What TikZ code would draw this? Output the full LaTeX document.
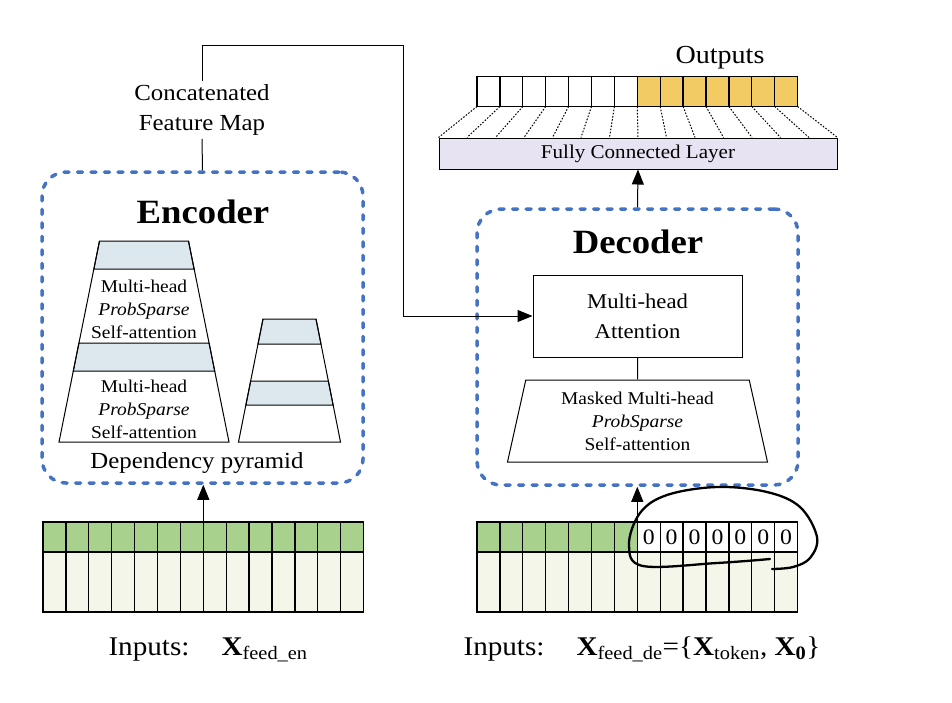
\documentclass[tikz,border=0pt]{standalone}
\usepackage{fontspec}
\setmainfont{Liberation Serif}[FakeStretch=1.08]
\usepackage{xcolor}
\usepackage{tikz}
\usetikzlibrary{arrows.meta,calc,shapes.geometric}

\definecolor{encblue}{HTML}{4472C4}
\definecolor{band}{HTML}{DDE8EE}
\definecolor{ingreen}{HTML}{A9D18E}
\definecolor{inlight}{HTML}{F3F6E8}
\definecolor{outgold}{HTML}{F2CB63}
\definecolor{fclav}{HTML}{E8E3F2}
\newcommand{\fs}[2]{\fontsize{#1pt}{#2pt}\selectfont}

\begin{document}
\begin{tikzpicture}[x=1pt, y=-1pt,
  blk/.style={draw=encblue, line width=3.5pt, line cap=round, dash pattern=on 5pt off 8.5pt, rounded corners=24pt, inner sep=0pt},
  lyr/.style={draw, line width=1pt},
  cell/.style={draw, line width=1.3pt, inner sep=0pt, outer sep=0pt, minimum width=22.9pt, minimum height=30pt},
  arr/.style={line width=1pt, -{Triangle[length=15pt, width=12pt]}},
  small/.style={font=\fs{18}{23}, align=center},
  ttl/.style={font=\bfseries\fs{34}{40}}]
\useasboundingbox (0,0) rectangle (952,702);

% encoder / decoder frames
\node[blk, minimum width=321pt, minimum height=311pt] (enc) at (202.5,327.5) {};
\node[blk, minimum width=321pt, minimum height=276pt] (dec) at (637.5,347) {};
\node[ttl] (enct) at (203,212) {Encoder};
\node[ttl] (dect) at (638,242) {Decoder};

% dependency pyramid
\filldraw[lyr, fill=band] (99.5,241) -- (188.5,241) -- (194.1,269) -- (93.9,269) -- cycle;
\filldraw[lyr, fill=band] (78.95,343) -- (209.05,343) -- (214.7,371) -- (73.3,371) -- cycle;
\draw[lyr] (99.5,241) -- (59,442) -- (229,442) -- (188.5,241);
\filldraw[lyr, fill=band] (263,319) -- (316,319) -- (321,344) -- (258,344) -- cycle;
\filldraw[lyr, fill=band] (250.65,381) -- (328.35,381) -- (333.1,405) -- (245.9,405) -- cycle;
\draw[lyr] (263,319) -- (238.5,442) -- (340.5,442) -- (316,319);
\node[small] (pa1) at (144,309) {Multi-head\\\textit{ProbSparse}\\Self-attention};
\node[small] (pa2) at (144,409) {Multi-head\\\textit{ProbSparse}\\Self-attention};
\node[font=\fs{23}{28}] (dep) at (197,463) {Dependency pyramid};

% decoder blocks
\node[lyr, minimum width=209pt, minimum height=82pt, font=\fs{21}{30}, align=center] (mha) at (637.5,316) {Multi-head\\Attention};
\node[lyr, trapezium, trapezium angle=72.7, trapezium stretches body, minimum width=260pt, minimum height=82pt, inner sep=0pt, small] (msk) at (637.5,421) {Masked Multi-head\\\textit{ProbSparse}\\Self-attention};
\draw[line width=1pt] (mha.south) -- (msk.north);

% concatenated feature map
\node[font=\fs{23}{30}, align=center] (cfm) at (202,110) {Concatenated\\Feature Map};
\coordinate (bend) at (403,45);
\draw[line width=1pt] (enc.north) -- (cfm.south);
\draw[arr] (cfm.north) |- (bend) |- (mha.west);

% fully connected layer and outputs
\node[lyr, fill=fclav, minimum width=398pt, minimum height=31pt, font=\fs{19.5}{22}] (fc) at (638,153.5) {Fully Connected Layer};
\draw[arr] (dec.north) -- (fc.south);
\foreach \i in {0,...,6}
  \node[cell, fill=white] (o\i) at ({488.45+22.9*\i},91.5) {};
\foreach \i in {7,...,13}
  \node[cell, fill=outgold] (o\i) at ({488.45+22.9*\i},91.5) {};
\foreach \i in {0,...,14}
  \draw[dash pattern=on 1.6pt off 1.6pt, line width=1pt] ($(o0.south west)!\i/14!(o13.south east)$) -- ($(fc.north west)!\i/14!(fc.north east)$);
\node[font=\fs{26}{30}] (outp) at (720,58) {Outputs};

% encoder inputs
\foreach \i in {0,...,13} {
  \node[cell, fill=ingreen] (et\i) at ({54.45+22.9*\i},537) {};
  \node[cell, fill=inlight, minimum height=60pt] (eb\i) at ({54.45+22.9*\i},582) {};
}
\draw[arr] (et7.north west) -- (et7.north west |- enc.south);
\node[font=\fs{27}{30}, anchor=base west] (ein) at (105,655) {Inputs:};
\node[font=\fs{27}{30}, anchor=base west] (ex) at (218,655) {\textbf{X}\textsubscript{feed\_en}};

% decoder inputs
\foreach \i in {0,...,13}
  \node[cell, fill=inlight, minimum height=60pt] (db\i) at ({488.45+22.9*\i},582) {};
\foreach \i in {0,...,6}
  \node[cell, fill=ingreen] (dt\i) at ({488.45+22.9*\i},537) {};
\foreach \i in {7,...,13}
  \node[cell, fill=white, font=\fs{22}{24}] (dt\i) at ({488.45+22.9*\i},537) {0};
\draw[arr] (dt7.north west) -- (dt7.north west |- dec.south);
\node[font=\fs{27}{30}, anchor=base west] (din) at (460,655) {Inputs:};
\node[font=\fs{27}{30}, anchor=base west] (dx) at (573,655) {\textbf{X}\textsubscript{feed\_de}=\{\textbf{X}\textsubscript{token}, \textbf{X\textsubscript{0}}\}};

% hand-drawn loop
\draw[line width=2.3pt, line cap=round] plot[smooth, tension=0.6] coordinates {(770,559) (717,563) (643,566) (629,545) (640,513) (667,495) (717,487) (767,492) (800,507) (817,537) (810,558) (793,567) (772,569)};
\end{tikzpicture}
\end{document}
